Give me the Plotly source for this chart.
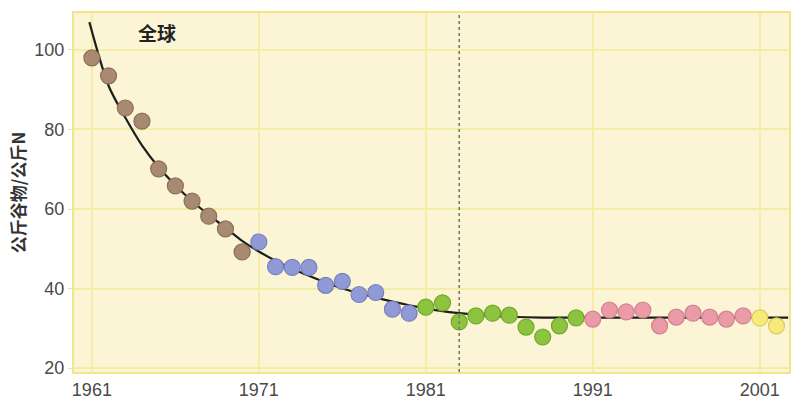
import plotly.graph_objects as go

years = list(range(1961, 2003))
values = [98.0, 93.5, 85.4, 82.1, 70.1, 65.8, 62.0, 58.2, 55.0, 49.2,
          51.7, 45.5, 45.3, 45.3, 40.8, 41.8, 38.5, 39.0, 34.8, 33.8,
          35.3, 36.4, 31.6, 33.1, 33.8, 33.3, 30.3, 27.8, 30.6, 32.6,
          32.3, 34.6, 34.1, 34.6, 30.6, 32.8, 33.8, 32.8, 32.3, 33.1,
          32.6, 30.6]
decade_colors = ["#a88a72", "#8f9ad6", "#8cc43f", "#eb9ba8", "#f6ea7a"]
decade_lines = ["#8c7058", "#7580bd", "#72a82c", "#d2808f", "#dccf5c"]

trend_years = [1960.85, 1962, 1963, 1964, 1965, 1966, 1967, 1968, 1969, 1970,
               1971, 1972, 1973, 1974, 1975, 1976, 1977, 1978, 1979, 1980,
               1981, 1982, 1983, 1984, 1985, 1986, 1988, 1992, 1997, 2002.7]
trend_values = [107.0, 91.0, 83.0, 76.0, 70.5, 66.0, 62.0, 58.5, 55.3, 52.0,
                49.3, 47.0, 45.0, 43.2, 41.5, 40.0, 38.8, 37.7, 36.7, 35.8,
                35.0, 34.3, 33.8, 33.4, 33.1, 32.9, 32.7, 32.7, 32.7, 32.7]

x_ticks = [1961, 1971, 1981, 1991, 2001]
y_ticks = [20, 40, 60, 80, 100]
divider_year = 1983
region_label = "全球"
y_title = "公斤谷物/公斤N"

fig = go.Figure()
fig.add_trace(go.Scatter(x=trend_years, y=trend_values, mode="lines",
                         line=dict(color="#1e1e1e", width=2.2, shape="spline", smoothing=0.8),
                         hoverinfo="skip", showlegend=False))

marker_colors = [decade_colors[min((y - 1961) // 10, 4)] for y in years]
marker_lines = [decade_lines[min((y - 1961) // 10, 4)] for y in years]
fig.add_trace(go.Scatter(x=years, y=values, mode="markers",
                         marker=dict(size=16, color=marker_colors,
                                     line=dict(color=marker_lines, width=1.2)),
                         showlegend=False))

fig.add_shape(type="line", xref="x", yref="paper", x0=divider_year, x1=divider_year,
              y0=0, y1=1, line=dict(color="#7a7a6a", width=1.6, dash="dot"))

fig.add_annotation(x=0.116, y=0.947, xref="paper", yref="paper", text="<b>" + region_label + "</b>",
                   xanchor="center", yanchor="middle",
                   showarrow=False, font=dict(size=19, color="#222222",
                                              family="Noto Sans CJK SC"))

fig.update_layout(
    width=791, height=406,
    margin=dict(l=74, r=2, t=13, b=34, autoexpand=False),
    paper_bgcolor="white",
    plot_bgcolor="#fbf5d6",
    font=dict(family="Liberation Sans Narrow, Liberation Sans, sans-serif", color="#555555", size=18),
)
fig.update_xaxes(range=[1959.93, 2002.75], tickvals=x_ticks, showgrid=True,
                 gridcolor="#f3eda6", gridwidth=2, zeroline=False, automargin=False,
                 showline=True, linecolor="#f0e68a", linewidth=2, mirror=True,
                 ticks="", tickfont=dict(size=18, color="#4a4a4a"))
fig.update_yaxes(range=[19.0, 109.3], tickvals=y_ticks, showgrid=True,
                 gridcolor="#f3eda6", gridwidth=2, zeroline=False, automargin=False,
                 showline=True, linecolor="#f0e68a", linewidth=2, mirror=True,
                 ticks="outside", ticklen=4, tickcolor="#dddddd",
                 tickfont=dict(size=18, color="#4a4a4a"),
                 title=dict(text="<b>" + y_title + "</b>", standoff=4,
                            font=dict(size=17, color="#333333", family="Noto Sans CJK SC")))

fig.write_html("out.html", config={"displayModeBar": False},
               post_script="document.body.style.margin='0';document.body.style.overflow='hidden';")
